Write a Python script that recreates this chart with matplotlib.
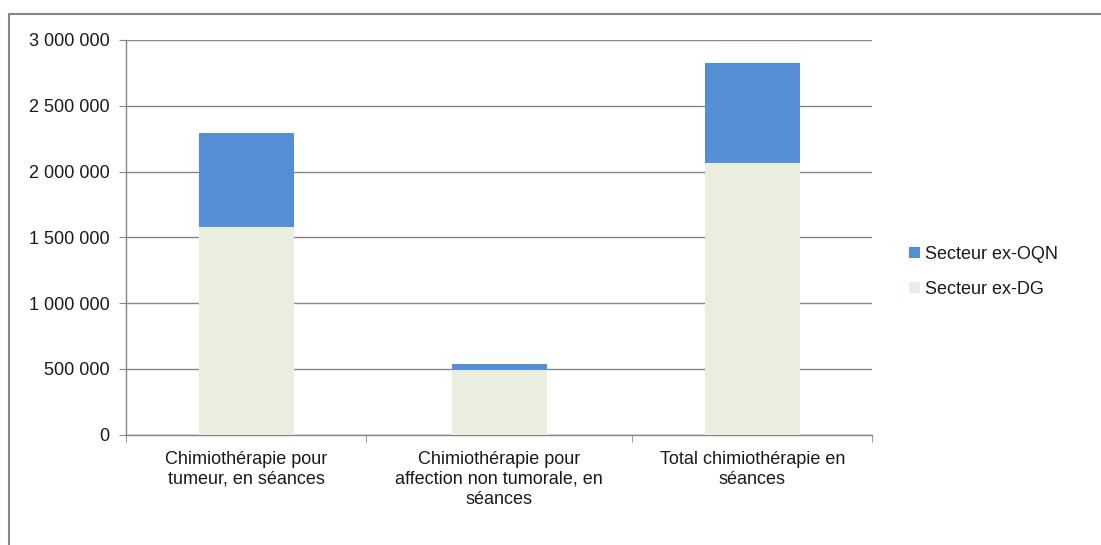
import matplotlib
matplotlib.use("Agg")
import matplotlib.pyplot as plt
import numpy as np
from matplotlib.ticker import FuncFormatter, FixedLocator
from matplotlib.patches import Rectangle

categories = ["Chimiothérapie pour\ntumeur, en séances",
              "Chimiothérapie pour\naffection non tumorale, en\nséances",
              "Total chimiothérapie en\nséances"]
dg = [1575000, 492000, 2067000]
oqn = [717000, 43000, 760000]
series_names = ["Secteur ex-OQN", "Secteur ex-DG"]
yticks = [0, 500000, 1000000, 1500000, 2000000, 2500000, 3000000]

plt.rcParams['font.family'] = ['Liberation Sans', 'DejaVu Sans']

W, H = 1101, 545
fig = plt.figure(figsize=(W/100, H/100), dpi=100)
ax = fig.add_axes([126/W, 1-434.7/H, (872-126)/W, (434.7-40)/H])

x = np.arange(len(categories))
c_dg = "#e9eedf"
c_oqn = "#558ed5"
grid_c = "#868686"
txt_c = "#1a1a1a"
bw = 0.375
ax.bar(x, dg, width=bw, color=c_dg, zorder=3, label=series_names[1])
ax.bar(x, oqn, width=bw, bottom=dg, color=c_oqn, zorder=3, label=series_names[0])

xl, xr = -0.474, len(categories) - 1 + 0.472
ax.set_xlim(xl, xr)
ax.set_ylim(0, 3000000)
ax.yaxis.set_major_locator(FixedLocator(yticks))
ax.yaxis.set_major_formatter(FuncFormatter(lambda v, p: f"{int(v):,}".replace(",", " ")))
ax.grid(axis='y', color=grid_c, linewidth=1, zorder=0)
ax.set_axisbelow(True)
for s in ['top', 'right']:
    ax.spines[s].set_visible(False)
for s in ['left', 'bottom']:
    ax.spines[s].set_color(grid_c)
    ax.spines[s].set_linewidth(1)

ax.set_xticks(x)
ax.set_xticklabels(categories, fontsize=13, linespacing=1.2, color=txt_c)
ax.tick_params(axis='x', length=0, pad=12)
ax.set_xticks([xl, 0.473, 1.525, xr], minor=True)
ax.tick_params(axis='x', which='minor', length=5, color=grid_c, direction='out')
ax.tick_params(axis='y', length=5, color=grid_c, labelsize=13, pad=7, labelcolor=txt_c)

h, l = ax.get_legend_handles_labels()
leg = fig.legend(h[::-1], l[::-1], loc='center left', bbox_to_anchor=(893/W, 1-272/H),
                 frameon=False, fontsize=13, handlelength=0.6, handleheight=0.6,
                 handletextpad=0.25, labelspacing=1.0)
for t in leg.get_texts():
    t.set_color(txt_c)

# outer frame
fig.patches.append(Rectangle((9/W, -0.1), 1.2, 1-14/H+0.1, transform=fig.transFigure,
                             fill=False, edgecolor="#868686", linewidth=1.5))

fig.savefig("out.png", dpi=100)
